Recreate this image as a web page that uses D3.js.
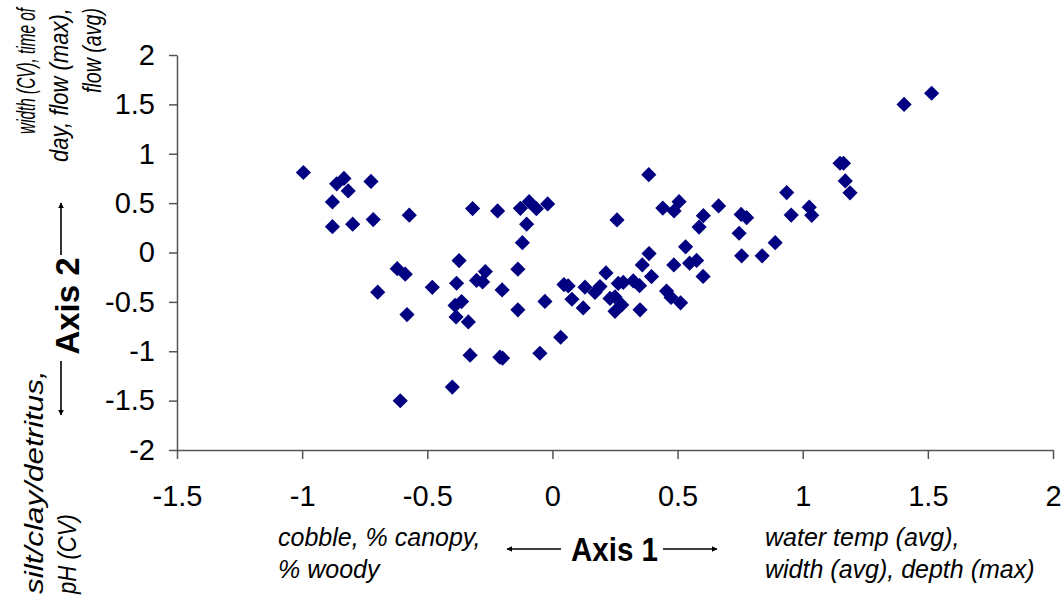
<!DOCTYPE html>
<html>
<head>
<meta charset="utf-8">
<script src="https://cdn.jsdelivr.net/npm/d3@7"></script>
<style>
  body { margin: 0; background: #fff; }
  svg { display: block; font-family: "Liberation Sans", Arial, sans-serif; }
</style>
</head>
<body>
<div id="chart"></div>
<script>
// site scores on the two ordination axes
const axis1 = [
  -0.995, -0.862, -0.833, -0.816, -0.725, -0.879, -0.879, -0.798, -0.716, -0.572,
  -0.319, -0.219, -0.128, -0.093, -0.064, -0.019, -0.103, -0.120, -0.373, -0.620,
  -0.588, -0.698, -0.480, -0.383, -0.303, -0.268, -0.279, -0.201, -0.138, -0.030,
  -0.138, -0.363, -0.389, -0.385, -0.336, -0.581, 0.033, -0.329, -0.210, -0.199,
  -0.050, -0.400, -0.608, 1.405, 1.515, 1.149, 1.163, 1.170, 1.189, 0.936,
  1.026, 1.036, 0.954, 0.754, 0.776, 0.746, 0.756, 0.838, 0.890, 0.664,
  0.603, 0.586, 0.506, 0.486, 0.441, 0.385, 0.258, 0.532, 0.576, 0.548,
  0.485, 0.602, 0.386, 0.359, 0.396, 0.456, 0.474, 0.512, 0.350, 0.214,
  0.323, 0.348, 0.283, 0.263, 0.250, 0.230, 0.277, 0.250, 0.190, 0.170,
  0.130, 0.123, 0.078, 0.063, 0.046
];
const axis2 = [
  0.810, 0.695, 0.750, 0.624, 0.720, 0.512, 0.262, 0.287, 0.333, 0.378,
  0.445, 0.421, 0.447, 0.515, 0.444, 0.492, 0.287, 0.100, -0.082, -0.164,
  -0.219, -0.402, -0.353, -0.311, -0.283, -0.193, -0.298, -0.379, -0.169, -0.495,
  -0.581, -0.497, -0.536, -0.652, -0.703, -0.629, -0.858, -1.040, -1.060, -1.070,
  -1.020, -1.363, -1.501, 1.500, 1.613, 0.904, 0.904, 0.725, 0.604, 0.607,
  0.459, 0.376, 0.379, 0.386, 0.353, 0.195, -0.034, -0.034, 0.100, 0.472,
  0.373, 0.257, 0.515, 0.421, 0.450, 0.788, 0.330, 0.057, -0.080, -0.108,
  -0.126, -0.242, -0.011, -0.126, -0.244, -0.391, -0.455, -0.510, -0.581, -0.207,
  -0.288, -0.336, -0.303, -0.313, -0.450, -0.465, -0.531, -0.596, -0.345, -0.404,
  -0.351, -0.561, -0.473, -0.338, -0.325
];

const xTicks = [-1.5, -1, -0.5, 0, 0.5, 1, 1.5, 2];
const yTicks = [-2, -1.5, -1, -0.5, 0, 0.5, 1, 1.5, 2];

const axis1Low = ["cobble, % canopy,", "% woody"];
const axis1High = ["water temp (avg),", "width (avg), depth (max)"];
const axis2High = ["width (CV), time of", "day, flow (max),", "flow (avg)"];
const axis2Low = ["silt/clay/detritus,", "pH (CV)"];

const width = 1064;
const height = 598;

const svg = d3.select("#chart")
  .append("svg")
  .attr("width", width)
  .attr("height", height);

// arrow head used on the axis title arrows
svg.append("defs")
  .append("marker")
  .attr("id", "head")
  .attr("viewBox", "0 0 10 10")
  .attr("refX", 9)
  .attr("refY", 5)
  .attr("markerWidth", 6)
  .attr("markerHeight", 6)
  .attr("markerUnits", "userSpaceOnUse")
  .attr("orient", "auto")
  .append("path")
  .attr("d", "M0,0L10,5L0,10z")
  .attr("fill", "#000");

const x = d3.scaleLinear().domain([-1.5, 2]).range([177, 1053]);
const y = d3.scaleLinear().domain([-2, 2]).range([450, 55]);

// axes
const gx = svg.append("g")
  .attr("transform", `translate(0,${y(-2)})`)
  .call(d3.axisBottom(x)
    .tickValues(xTicks)
    .tickFormat(d => String(d))
    .tickSize(9)
    .tickSizeOuter(0)
    .tickPadding(26));

const gy = svg.append("g")
  .attr("transform", `translate(${x(-1.5)},0)`)
  .call(d3.axisLeft(y)
    .tickValues(yTicks)
    .tickFormat(d => String(d))
    .tickSize(8)
    .tickSizeOuter(0)
    .tickPadding(14));

[gx, gy].forEach(g => {
  g.select(".domain").attr("stroke", "#555").attr("stroke-width", 1.5);
  g.selectAll(".tick line").attr("stroke", "#555").attr("stroke-width", 1.5);
  g.selectAll(".tick text")
    .attr("fill", "#000")
    .attr("font-size", 29)
    .attr("font-family", "'Liberation Sans', Arial, sans-serif");
});

// points
const sites = axis1.map((v, i) => ({ a1: v, a2: axis2[i] }));
const diamond = d3.symbol().type(d3.symbolSquare).size(115);

svg.append("g")
  .selectAll("path")
  .data(sites)
  .join("path")
  .attr("d", diamond)
  .attr("transform", d => `translate(${x(d.a1)},${y(d.a2)}) rotate(45)`)
  .attr("fill", "#000080");

// Axis 1 title with arrows
svg.append("text")
  .attr("x", 614.5)
  .attr("y", 561)
  .attr("text-anchor", "middle")
  .attr("font-weight", "bold")
  .attr("font-size", 34)
  .attr("textLength", 87)
  .attr("lengthAdjust", "spacingAndGlyphs")
  .text("Axis 1");

const arrows = svg.append("g")
  .attr("stroke", "#000")
  .attr("stroke-width", 1.6)
  .attr("marker-end", "url(#head)");

arrows.append("line").attr("x1", 561).attr("y1", 549).attr("x2", 507).attr("y2", 549);
arrows.append("line").attr("x1", 663).attr("y1", 549).attr("x2", 717).attr("y2", 549);

// Axis 2 title with arrows
svg.append("text")
  .attr("transform", "translate(79,306) rotate(-90)")
  .attr("text-anchor", "middle")
  .attr("font-weight", "bold")
  .attr("font-size", 34)
  .attr("textLength", 97)
  .attr("lengthAdjust", "spacingAndGlyphs")
  .text("Axis 2");

arrows.append("line").attr("x1", 61).attr("y1", 255).attr("x2", 61).attr("y2", 203);
arrows.append("line").attr("x1", 61).attr("y1", 361).attr("x2", 61).attr("y2", 415);

// italic end-member labels
const notes = svg.append("g")
  .attr("font-style", "italic")
  .attr("font-size", 25)
  .attr("fill", "#000");

axis1Low.forEach((t, i) => {
  notes.append("text").attr("x", 278).attr("y", 546 + i * 32).text(t);
});
axis1High.forEach((t, i) => {
  notes.append("text").attr("x", 765).attr("y", 546 + i * 32).text(t);
});

// vertical labels are squeezed or stretched in the original text boxes,
// so scale each one along its baseline to the length seen in the figure
const highLen = [126, 154, 85];
const lowLen = [224, 80];

function vLabel(t, px, py, anchor, len) {
  const txt = notes.append("text")
    .attr("text-anchor", anchor)
    .text(t);
  const s = len / txt.node().getComputedTextLength();
  txt.attr("transform", `translate(${px},${py}) rotate(-90) scale(${s},1)`);
}

axis2High.forEach((t, i) => vLabel(t, 35 + i * 33, 8, "end", highLen[i]));
axis2Low.forEach((t, i) => vLabel(t, 43 + i * 33, 594, "start", lowLen[i]));
</script>
</body>
</html>
